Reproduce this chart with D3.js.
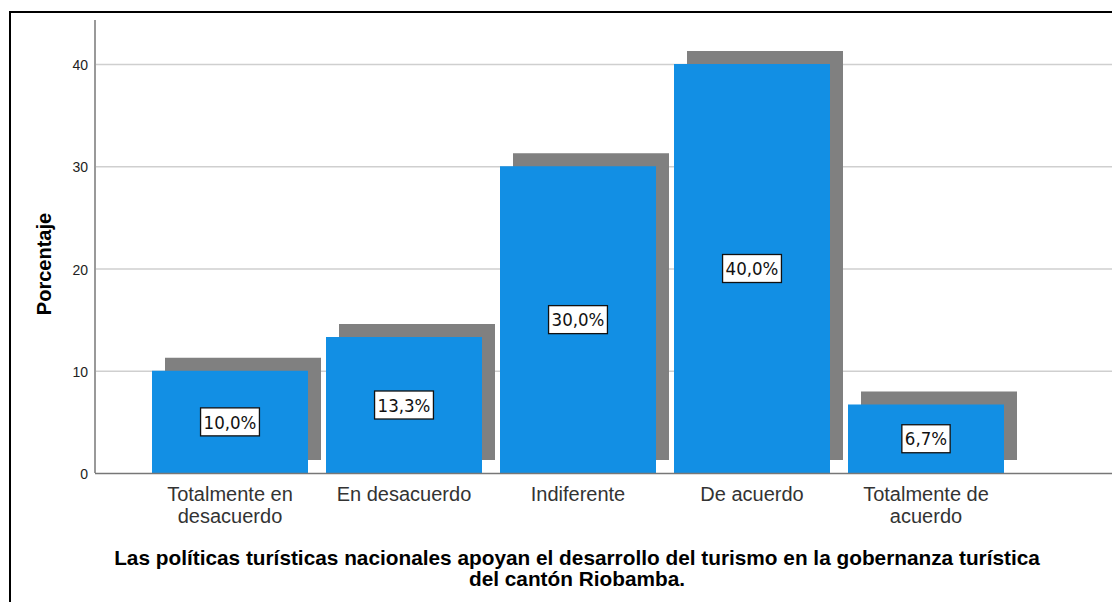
<!DOCTYPE html>
<html>
<head>
<meta charset="utf-8">
<script src="https://cdn.jsdelivr.net/npm/d3@7"></script>
<style>
  body { margin: 0; background: #fff; }
  svg { display: block; font-family: "Liberation Sans", Arial, sans-serif; }
</style>
</head>
<body>
<div id="chart"></div>
<script>
// data
var categories = [["Totalmente en", "desacuerdo"], ["En desacuerdo"], ["Indiferente"], ["De acuerdo"], ["Totalmente de", "acuerdo"]];
var values = [10.0, 13.3, 30.0, 40.0, 6.7];
var valueLabels = ["10,0%", "13,3%", "30,0%", "40,0%", "6,7%"];
var yTicks = [0, 10, 20, 30, 40];
var title = ["Las políticas turísticas nacionales apoyan el desarrollo del turismo en la gobernanza turística", "del cantón Riobamba."];

var w = 1112, h = 602;
var axisLeftX = 95, axisBottomY = 473, axisTopY = 20;
var shadow = 13;

var svg = d3.select("#chart").append("svg")
  .attr("width", w)
  .attr("height", h);

// frame
svg.append("path")
  .attr("d", "M10," + h + "V12H" + w)
  .attr("fill", "none")
  .attr("stroke", "#000")
  .attr("stroke-width", 2);

var xScale = d3.scaleBand()
  .domain(d3.range(values.length))
  .range([143, 1013])
  .paddingInner(18 / 174)
  .paddingOuter(9 / 174);

var yScale = d3.scaleLinear()
  .domain([0, 40])
  .range([axisBottomY, 64]);

// grid
svg.append("g")
  .selectAll("line")
  .data(yTicks.slice(1))
  .enter()
  .append("line")
  .attr("x1", axisLeftX)
  .attr("x2", w)
  .attr("y1", function(d) { return yScale(d) + 0.5; })
  .attr("y2", function(d) { return yScale(d) + 0.5; })
  .attr("stroke", "#cfcfcf")
  .attr("stroke-width", 1.5);

// shadows
svg.append("g")
  .selectAll("rect")
  .data(values)
  .enter()
  .append("rect")
  .attr("x", function(d, i) { return xScale(i) + shadow; })
  .attr("y", function(d) { return yScale(d) - shadow; })
  .attr("width", xScale.bandwidth())
  .attr("height", function(d) { return axisBottomY - yScale(d); })
  .attr("fill", "#808080");

// bars
svg.append("g")
  .selectAll("rect")
  .data(values)
  .enter()
  .append("rect")
  .attr("x", function(d, i) { return xScale(i); })
  .attr("y", function(d) { return yScale(d); })
  .attr("width", xScale.bandwidth())
  .attr("height", function(d) { return axisBottomY - yScale(d); })
  .attr("fill", "#128fe4");

// y axis
var yAxis = d3.axisLeft(yScale)
  .tickValues(yTicks)
  .tickSize(0)
  .tickPadding(7);

var gy = svg.append("g")
  .attr("transform", "translate(" + axisLeftX + ",0)")
  .call(yAxis);
gy.select(".domain").remove();
gy.selectAll("text")
  .attr("font-size", 14)
  .attr("font-family", "Liberation Sans, Arial, sans-serif")
  .attr("fill", "#222")
  .attr("dy", "0.4em");

svg.append("line")
  .attr("x1", axisLeftX).attr("x2", axisLeftX)
  .attr("y1", axisTopY).attr("y2", axisBottomY)
  .attr("stroke", "#999")
  .attr("stroke-width", 2);

// x axis
svg.append("line")
  .attr("x1", axisLeftX).attr("x2", w)
  .attr("y1", axisBottomY + 0.5).attr("y2", axisBottomY + 0.5)
  .attr("stroke", "#777")
  .attr("stroke-width", 1.5);

// category labels
var cat = svg.append("g")
  .selectAll("text")
  .data(categories)
  .enter()
  .append("text")
  .attr("text-anchor", "middle")
  .attr("font-size", 20)
  .attr("fill", "#333")
  .attr("x", function(d, i) { return xScale(i) + xScale.bandwidth() / 2; })
  .attr("y", 501);
cat.selectAll("tspan")
  .data(function(d) { return d; })
  .enter()
  .append("tspan")
  .attr("x", function() { return d3.select(this.parentNode).attr("x"); })
  .attr("dy", function(d, i) { return i == 0 ? 0 : 22; })
  .text(function(d) { return d; });

// value labels
var lab = svg.append("g")
  .selectAll("g")
  .data(values)
  .enter()
  .append("g")
  .attr("transform", function(d, i) {
    return "translate(" + (xScale(i) + xScale.bandwidth() / 2) + "," + ((yScale(d) + axisBottomY) / 2) + ")";
  });
lab.append("rect");
lab.append("text")
  .attr("text-anchor", "middle")
  .attr("dy", "0.36em")
  .attr("font-family", "DejaVu Sans Condensed, DejaVu Sans, sans-serif")
  .attr("font-size", 18.5)
  .attr("fill", "#111")
  .text(function(d, i) { return valueLabels[i]; });
lab.each(function() {
  var bb = d3.select(this).select("text").node().getBBox();
  d3.select(this).select("rect")
    .attr("x", bb.x - 3)
    .attr("y", -14)
    .attr("width", bb.width + 6)
    .attr("height", 28)
    .attr("fill", "#fff")
    .attr("stroke", "#111")
    .attr("stroke-width", 1.3);
});

// y title
svg.append("text")
  .attr("text-anchor", "middle")
  .attr("transform", "translate(51,264)rotate(-90)")
  .attr("font-size", 20)
  .attr("font-weight", "bold")
  .text("Porcentaje");

// x title
svg.append("text")
  .attr("text-anchor", "middle")
  .attr("font-size", 20.8)
  .attr("font-weight", "bold")
  .attr("y", 565)
  .selectAll("tspan")
  .data(title)
  .enter()
  .append("tspan")
  .attr("x", 577)
  .attr("dy", function(d, i) { return i == 0 ? 0 : 21; })
  .text(function(d) { return d; });
</script>
</body>
</html>
